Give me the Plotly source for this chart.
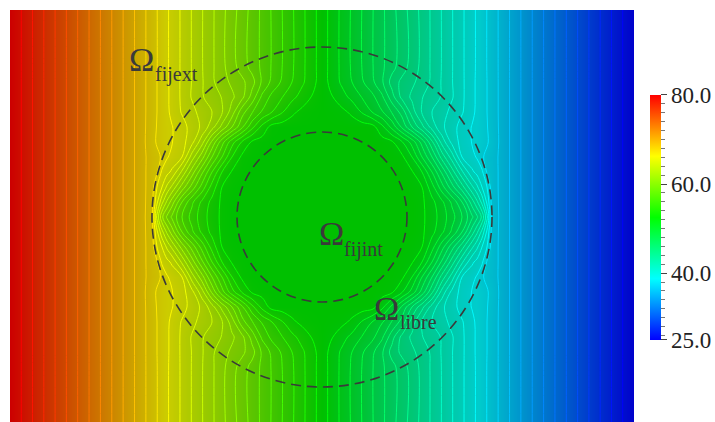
import numpy as np
import plotly.graph_objects as go

# Horizontal / vertical distance from the disc centre (chart units), upper-left quadrant
offset_x = [0,10,20,30,40,50,60,70,80,90,100,110,120,130,140,150,155,160,165,170,180,200,250,312]
offset_y = [0,15,30,45,60,75,90,105,120,135,150,207]
# Temperature, one list per offset_y
t_00 = [52.5,52.5,52.5,52.5,52.5,52.5,52.5,52.5,52.5,52.5,52.8,53.5,54.5,55.6,57.0,58.8,59.8,61.2,63.7,67.3,68.34,70.1,74.5,80.0]
t_15 = [52.5,52.5,52.5,52.5,52.5,52.5,52.5,52.5,52.5,52.5,52.8,53.7,54.8,56.2,58.0,60.5,61.8,63.3,65.2,67.4,68.34,70.1,74.5,80.0]
t_30 = [52.5,52.5,52.5,52.5,52.5,52.5,52.5,52.5,52.5,52.7,53.0,54.6,56.6,58.6,60.6,62.8,63.8,65.0,66.0,67.46,68.34,70.1,74.5,80.0]
t_45 = [52.5,52.5,52.5,52.5,52.5,52.5,52.5,52.5,52.7,52.9,54.0,56.0,58.2,60.5,62.8,64.8,65.3,65.8,67.1,67.46,68.34,70.1,74.5,80.0]
t_60 = [52.5,52.5,52.5,52.5,52.5,52.5,52.5,52.6,52.8,54.0,56.0,58.0,60.4,62.5,65.0,65.7,66.1,66.9,67.2,67.5,68.34,70.1,74.5,80.0]
t_75 = [52.5,52.5,52.5,52.5,52.5,52.5,52.6,52.85,53.9,55.4,57.4,59.8,62.4,64.3,65.4,66.05,66.3,66.6,66.9,67.3,68.34,70.1,74.5,80.0]
t_90 = [52.5,52.5,52.5,52.5,52.5,52.6,53.7,55.3,57.2,59.0,60.7,62.4,63.8,64.6,65.4,66.05,66.3,66.6,66.95,67.4,68.34,70.1,74.5,80.0]
t_105 = [52.5,52.6,52.75,53.2,54.1,55.0,55.9,57.1,58.4,60.5,62.1,63.0,63.6,64.3,64.9,65.75,66.2,66.6,67.0,67.45,68.34,70.1,74.5,80.0]
t_120 = [52.5,52.95,53.6,54.3,55.05,55.7,56.8,58.6,60.3,61.2,61.95,62.5,63.1,63.9,64.8,65.75,66.15,66.6,67.0,67.45,68.34,70.1,74.5,80.0]
t_135 = [52.5,53.35,54.2,55.0,55.85,56.75,57.85,59.4,60.25,60.8,61.4,62.2,63.1,63.95,64.8,65.75,66.15,66.6,67.0,67.45,68.34,70.1,74.5,80.0]
t_150 = [52.5,53.38,54.26,55.14,56.02,56.9,57.8,58.65,59.55,60.4,61.3,62.18,63.06,63.94,64.82,65.7,66.14,66.58,67.02,67.46,68.34,70.1,74.5,80.0]
t_207 = [52.5,53.38,54.26,55.14,56.02,56.9,57.78,58.66,59.54,60.42,61.3,62.18,63.06,63.94,64.82,65.7,66.14,66.58,67.02,67.46,68.34,70.1,74.5,80.0]

tick_vals_minor = list(range(26, 80, 2))
tick_vals = [25, 40, 60, 80]
tick_text = ["25.0", "40.0", "60.0", "80.0"]

quadrant = np.array([t_00,t_15,t_30,t_45,t_60,t_75,t_90,t_105,t_120,t_135,t_150,t_207])
# The field is mirror-symmetric top/bottom and anti-symmetric left/right about 52.5
upper = np.hstack([quadrant[:, :0:-1], 105 - quadrant])
z = np.vstack([upper[:0:-1], upper])
x = [-u for u in offset_x[:0:-1]] + offset_x
y = [-v for v in offset_y[:0:-1]] + offset_y

bright = [[0,"rgb(0,0,255)"],[.25,"rgb(0,255,255)"],[.5,"rgb(0,255,0)"],[.75,"rgb(255,255,0)"],[1,"rgb(255,0,0)"]]
dim = [[0,"rgb(0,0,204)"],[.25,"rgb(0,204,204)"],[.5,"rgb(0,192,0)"],[.75,"rgb(204,204,0)"],[1,"rgb(204,0,0)"]]

SERIF = "Liberation Serif"
INK = "#3a3a3a"
bar = dict(thickness=11, thicknessmode="pixels", len=245, lenmode="pixels",
           x=640/624, xanchor="left", xpad=0, y=0.4964, yanchor="middle", ypad=0,
           outlinewidth=0, borderwidth=0, bgcolor="rgba(0,0,0,0)")

fig = go.Figure()
fig.add_trace(go.Heatmap(x=x, y=y, z=z, zmin=25, zmax=80, colorscale=bright, zsmooth="best",
    colorbar=dict(**bar, tickmode="array", tickvals=tick_vals_minor, ticktext=[""]*len(tick_vals_minor),
                  ticks="outside", ticklen=4, tickwidth=1, tickcolor="#777777")))
fig.add_trace(go.Heatmap(x=x, y=y, z=z, zmin=25, zmax=80, colorscale=bright, zsmooth="best",
    colorbar=dict(**bar, tickmode="array", tickvals=tick_vals, ticktext=tick_text,
                  ticks="outside", ticklen=6, tickwidth=1, tickcolor="#444444",
                  tickfont=dict(family=SERIF, size=23, color="#222222"))))
fig.add_trace(go.Heatmap(x=x, y=y, z=z, zmin=25, zmax=80, colorscale=dim, zsmooth="best", showscale=False))
fig.add_trace(go.Contour(x=x, y=y, z=z, zmin=25, zmax=80, colorscale=bright, showscale=False,
    contours=dict(coloring="lines", start=26, end=79, size=1),
    line=dict(width=1, smoothing=1)))

fig.add_shape(type="circle", x0=-170, x1=170, y0=-170, y1=170,
              line=dict(color=INK, width=1.6, dash="10px,6px"))
fig.add_shape(type="circle", x0=-85, x1=85, y0=-85, y1=85,
              line=dict(color=INK, width=1.6, dash="10px,6px"))

labels = [("Ω", -181, 158, 34, "center"), ("fijext", -168, 143, 20, "left"),
          ("Ω", 9, -16, 34, "center"), ("fijint", 21, -32, 20, "left"),
          ("Ω", 64, -91, 34, "center"), ("libre", 77, -105, 20, "left")]
for text, ax, ay, size, anchor in labels:
    fig.add_annotation(x=ax, y=ay, text=text, showarrow=False, xanchor=anchor, yanchor="middle",
                       borderpad=0, font=dict(family=SERIF, size=size, color=INK))

fig.update_xaxes(range=[-312, 312], visible=False)
fig.update_yaxes(range=[-205, 207], visible=False)
fig.update_layout(width=715, height=422, autosize=False, paper_bgcolor="white", plot_bgcolor="white",
                  margin=dict(l=10, r=81, t=10, b=0), showlegend=False)
fig.write_html("out.html", config={"displayModeBar": False},
               post_script="document.body.style.margin='0';document.body.style.overflow='hidden';")
